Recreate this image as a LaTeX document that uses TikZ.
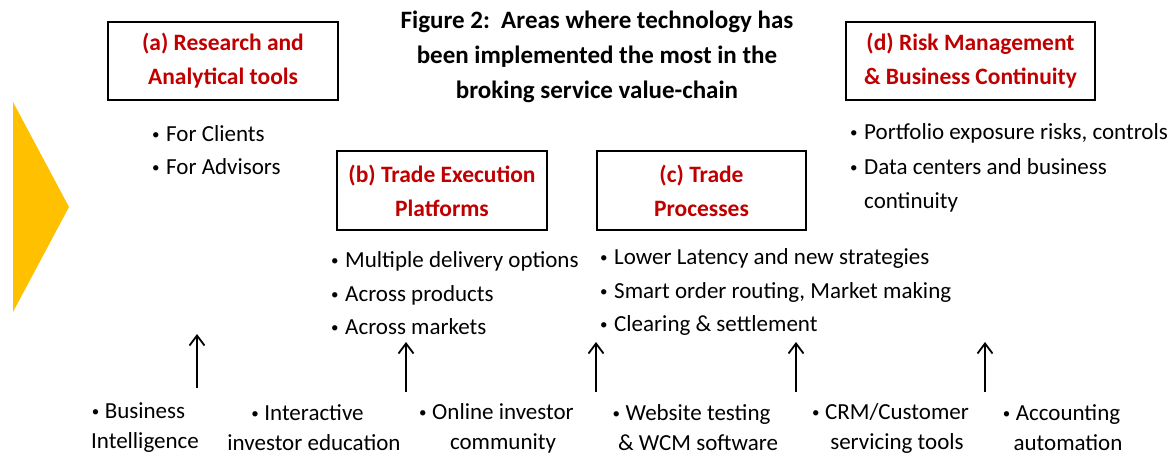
\documentclass[tikz,border=0pt]{standalone}
\usepackage{fontspec}
\setmainfont{Carlito}
\usetikzlibrary{arrows.meta}

\definecolor{chevron}{HTML}{FFC000}
\definecolor{headred}{HTML}{C00000}
\newcommand\smallbul{\raisebox{2pt}{\fontsize{15}{15}\selectfont\textbullet}}
\newcommand\bul{\makebox[14pt][l]{\smallbul}}
\newcommand\hangbul{\llap{\makebox[13pt][l]{\smallbul}}}

\tikzset{
  stagebox/.style={draw=black, line width=1.1pt, inner sep=0pt, align=center,
    text=headred, font=\bfseries\fontsize{23.5}{34}\selectfont},
  item/.style={anchor=west, inner sep=0pt, font=\fontsize{23}{28}\selectfont,
    text height=16pt, text depth=5pt},
  tool/.style={align=center, inner sep=0pt, font=\fontsize{23}{30}\selectfont},
  lift/.style={line width=1.8pt, -{Straight Barb[length=10pt,width=15pt]}}
}

\begin{document}
\begin{tikzpicture}[x=1pt, y=-1pt]
			%%%%% frame %%%%%
			\path[fill=white, use as bounding box] (0, 0) rectangle (1174, 464);
			
			\fill[chevron] (13, 102) -- (69, 207) -- (13, 312) -- cycle;
			
			\node[font=\bfseries\fontsize{25}{35}\selectfont, align=center] (title) at (597, 57)
				{Figure 2:~~Areas where technology has\\been implemented the most in the\\broking service value-chain};
			
			%%%%% the four stages %%%%%
			\node[stagebox, minimum width=230, minimum height=78] (resbox) at (223, 61)
				{(a) Research and\\Analytical tools};
			\node[stagebox, minimum width=210, minimum height=79] (exebox) at (442, 190.5)
				{(b) Trade Execution\\Platforms};
			\node[stagebox, minimum width=209, minimum height=79] (probox) at (701.5, 190.5)
				{(c) Trade\\Processes};
			\node[stagebox, minimum width=249, minimum height=78] (riskbox) at (970.5, 61)
				{(d) Risk Management\\\& Business Continuity};
			
			\node[item] (res1) at (152, 136) {\bul For Clients};
			\node[item] (res2) at (152, 169) {\bul For Advisors};
			
			\node[item] (exe1) at (331, 262) {\bul Multiple delivery options};
			\node[item] (exe2) at (331, 296) {\bul Across products};
			\node[item] (exe3) at (331, 329) {\bul Across markets};
			
			\node[item] (pro1) at (600, 259) {\bul Lower Latency and new strategies};
			\node[item] (pro2) at (600, 293) {\bul Smart order routing, Market making};
			\node[item] (pro3) at (600, 326) {\bul Clearing \& settlement};
			
			\node[item] (risk1) at (850, 134) {\bul Portfolio exposure risks, controls};
			\node[item] (risk2) at (850, 169) {\bul Data centers and business};
			\node[item] (risk3) at (850, 203) {\hspace{14pt}continuity};
			
			%%%%% supporting tools %%%%%
			\node[tool] (bi) at (145, 428) {\hangbul Business\\Intelligence};
			\node[tool] (edu) at (314, 428) {\hangbul Interactive\\investor education};
			\node[tool] (com) at (503, 428) {\hangbul Online investor\\community};
			\node[tool] (web) at (698, 428) {\hangbul Website testing\\\& WCM software};
			\node[tool] (crm) at (897, 428) {\hangbul CRM/Customer\\servicing tools};
			\node[tool] (acc) at (1068, 428) {\hangbul Accounting\\automation};
			
			\coordinate (foot1) at (197, 388);
			\coordinate (tip1) at (197, 334);
			\coordinate (foot2) at (406, 392);
			\coordinate (tip2) at (406, 342);
			\coordinate (foot3) at (596, 392);
			\coordinate (tip3) at (596, 342);
			\coordinate (foot4) at (796, 392);
			\coordinate (tip4) at (796, 342);
			\coordinate (foot5) at (985, 392);
			\coordinate (tip5) at (985, 342);
			
			\draw[lift] (foot1) -- (tip1);
			\draw[lift] (foot2) -- (tip2);
			\draw[lift] (foot3) -- (tip3);
			\draw[lift] (foot4) -- (tip4);
			\draw[lift] (foot5) -- (tip5);
			
			%%%%% END %%%%%
\end{tikzpicture}
\end{document}
